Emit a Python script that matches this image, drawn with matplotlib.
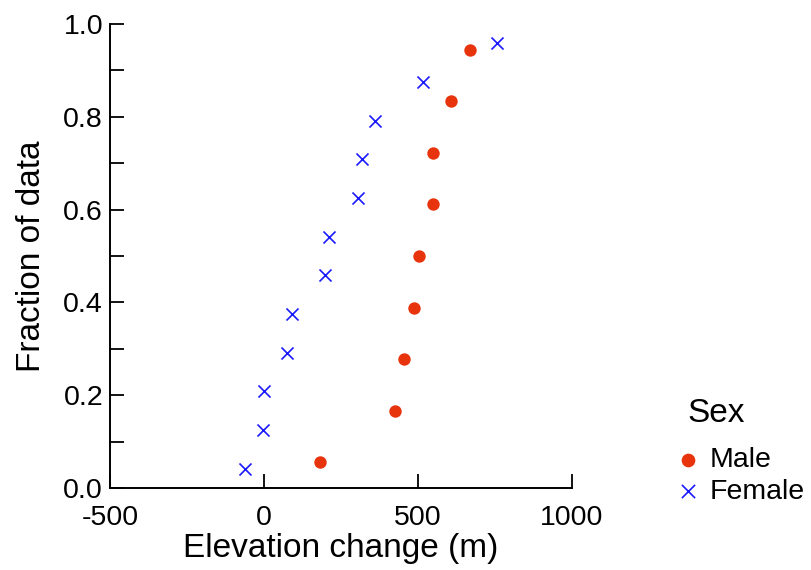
import matplotlib
matplotlib.use("Agg")
import matplotlib.pyplot as plt

plt.rcParams['font.family'] = ['Liberation Sans', 'DejaVu Sans']

# elevation change (m) and cumulative fraction for each group
male_elev = [182, 426, 456, 486, 502, 548, 548, 608, 669]
male_frac = [0.056, 0.167, 0.278, 0.389, 0.500, 0.611, 0.722, 0.833, 0.944]

female_elev = [-62, -2, 0, 74, 90, 198, 212, 304, 319, 359, 517, 757]
female_frac = [0.042, 0.125, 0.208, 0.292, 0.375, 0.458, 0.542, 0.625,
               0.708, 0.792, 0.875, 0.958]

xticks = [-500, 0, 500, 1000]
yticks = [0.0, 0.1, 0.2, 0.3, 0.4, 0.5, 0.6, 0.7, 0.8, 0.9, 1.0]
ylabels = ['0.0', '', '0.2', '', '0.4', '', '0.6', '', '0.8', '', '1.0']

fig = plt.figure(figsize=(8.12, 5.70), dpi=100)
ax = fig.add_axes([110 / 812, 1 - 488 / 570, 462 / 812, 464 / 570])

ax.scatter(male_elev, male_frac, s=80, marker='o', color='#e8340c',
           linewidths=0, label='Male', clip_on=False, zorder=3)
ax.scatter(female_elev, female_frac, s=75, marker='x', color='#1a1aff',
           linewidths=1.2, label='Female', clip_on=False, zorder=3)

ax.set_xlim(-500, 1000)
ax.set_ylim(0, 1)

#only left and bottom spines
ax.spines['top'].set_visible(False)
ax.spines['right'].set_visible(False)
for s in ['left', 'bottom']:
    ax.spines[s].set_linewidth(1.4)

ax.set_xticks(xticks)
ax.set_xticklabels([str(t) for t in xticks])
ax.set_yticks(yticks)
ax.set_yticklabels(ylabels)
ax.tick_params(direction='in', length=10, width=1.3, labelsize=20.5)
ax.tick_params(axis='y', pad=5)
ax.tick_params(axis='x', pad=12)

ax.set_xlabel('Elevation change (m)', fontsize=24, labelpad=2)
ax.set_ylabel('Fraction of data', fontsize=24, labelpad=12)

#legend title drawn on its own so the gap above the entries can be set
fig.text(687 / 812, 1 - 414 / 570, 'Sex', fontsize=24, ha='left', va='center')
leg = fig.legend(loc='upper left', bbox_to_anchor=(675 / 812, 1 - 447 / 570),
                 frameon=False, fontsize=20.5, borderaxespad=0,
                 handletextpad=0.3, labelspacing=0.2, handlelength=0.9,
                 borderpad=0, markerscale=1.1)

fig.savefig('out.png', dpi=100)
